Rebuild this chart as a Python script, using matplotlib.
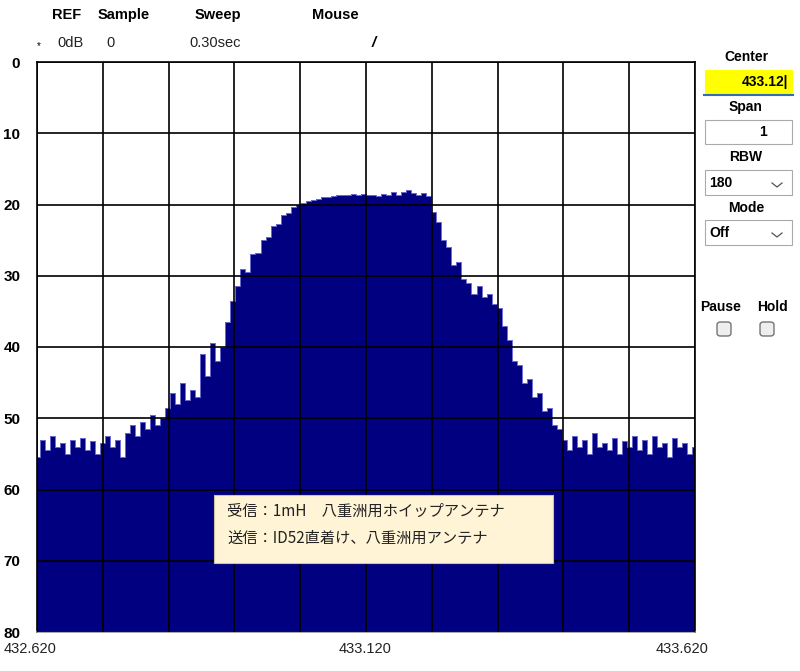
import matplotlib
matplotlib.use("Agg")
import matplotlib.pyplot as plt
from matplotlib.patches import Rectangle, FancyBboxPatch
from matplotlib.lines import Line2D
import matplotlib.transforms as mtransforms
import numpy as np

# spectrum level (dB below REF), one value per ~1/132 of the span
floor_left = [55.5, 53, 54.5, 52.5, 54, 53.5, 55, 53, 54, 52.8, 54.5, 53.2, 55, 53.5,
              52.5, 54, 53, 55.5, 52]
rise_1 = [51, 52.5, 50.5, 51.5, 49.5, 51, 50]
rise_2 = [48.5, 46.5, 48, 45, 47.5, 46, 47]
rise_3 = [41, 44, 39.5, 42, 40, 36.5]
slope_up = [33.5, 31.5, 29, 29.5, 27, 26.8, 25, 24.6, 23, 22.8, 21.5, 21.2, 20.3, 20.1]
top = [19.8, 19.5, 19.3, 19.2, 19.0, 18.9, 18.8, 18.7, 18.6, 18.7, 18.5, 18.6, 18.5,
       18.7, 18.6, 18.8, 18.5, 18.7, 18.3, 18.6, 18.2, 18.0, 18.4, 18.6, 18.4, 18.8]
slope_down = [21, 22.5, 25, 26, 28.5, 28, 30.5, 31, 32.5, 31.5, 33, 32.5, 34, 34.5,
              37, 39, 42, 42.5, 45, 44.5, 47, 46.5, 49, 48.5, 51, 51.5]
floor_right = [53, 54.5, 52.5, 54, 53, 55, 52, 54, 53.5, 54.5, 52.8, 55, 53.2, 54,
               52.5, 54.5, 53, 55, 52.5, 54, 53.5, 55.5, 52.8, 54, 53.5, 55, 54]
level = np.array(floor_left + rise_1 + rise_2 + rise_3 + slope_up + top
                 + slope_down + floor_right)

f_start, f_stop = 432.620, 433.620
freq = np.linspace(f_start, f_stop, len(level))
freq_ticks = [432.620, 433.120, 433.620]
freq_labels = ["432.620", "433.120", "433.620"]
db_ticks = [0, 10, 20, 30, 40, 50, 60, 70, 80]

W, H = 800, 671
fig = plt.figure(figsize=(W / 100, H / 100), dpi=100)


def fx(x):
    return x / W


def fy(y):
    return 1 - y / H


ax = fig.add_axes([fx(37), fy(632), (695 - 37) / W, (632 - 62) / H])
ax.fill_between(freq, level, 80, step="mid", color="#000080", lw=0, zorder=1)
ax.step(freq, level, where="mid", color="#6c6cd0", lw=0.7, zorder=1.2)
ax.set_xlim(f_start, f_stop)
ax.set_ylim(80, 0)
ax.set_xticks(np.linspace(f_start, f_stop, 11))
ax.set_yticks(db_ticks)
ax.set_xticklabels([])
ax.set_yticklabels([str(t) for t in db_ticks], fontsize=11, fontweight="bold",
                   family="Liberation Sans")
ax.tick_params(length=0, pad=12)
ax.grid(True, color="black", lw=1.2)
ax.set_axisbelow(False)
for s in ax.spines.values():
    s.set_color("black")
    s.set_linewidth(1.2)
ax.spines["bottom"].set_color("#999999")

# frequency labels under the grid
offsets = [-7, -1, -13]
for f, lab, dx in zip(freq_ticks, freq_labels, offsets):
    tr = mtransforms.offset_copy(ax.get_xaxis_transform(), fig=fig, x=dx, y=-10, units="dots")
    ax.text(f, 0, lab, transform=tr, ha="center", va="top", fontsize=10.5,
            family="Liberation Sans", color="#222222")

# header
hdr = dict(fontsize=10.5, fontweight="bold", family="Liberation Sans", va="center")
fig.text(fx(52), fy(15), "REF", **hdr)
fig.text(fx(98), fy(15), "Sample", **hdr)
fig.text(fx(195), fy(15), "Sweep", **hdr)
fig.text(fx(312), fy(15), "Mouse", **hdr)
val = dict(fontsize=10.5, family="Liberation Sans", va="center", color="#222222")
fig.text(fx(37), fy(46), "*", fontsize=7, family="Liberation Sans", va="center")
fig.text(fx(57), fy(43), "0dB", **val)
fig.text(fx(106), fy(43), "0", **val)
fig.text(fx(189), fy(43), "0.30sec", **val)
fig.text(fx(372), fy(43), "/", fontsize=11, fontweight="bold", style="italic",
         family="Liberation Sans", va="center")

# right control panel
lab = dict(fontsize=10, fontweight="bold", family="Liberation Sans", ha="center",
           va="center")
fig.text(fx(746), fy(57), "Center", **lab)
fig.text(fx(746), fy(107), "Span", **lab)
fig.text(fx(746), fy(157), "RBW", **lab)
fig.text(fx(746), fy(208), "Mode", **lab)
fig.text(fx(721), fy(307), "Pause", **lab)
fig.text(fx(773), fy(307), "Hold", **lab)


def box(x0, y0, x1, y1, fc="white", ec="#aaaaaa"):
    fig.patches.append(Rectangle((fx(x0), fy(y1)), fx(x1 - x0), (y1 - y0) / H,
                                 transform=fig.transFigure, fc=fc, ec=ec, lw=0.8))


box(705, 70, 792, 93, fc="#ffff00", ec="#ffff00")
fig.lines.append(Line2D([fx(704), fx(793)], [fy(95), fy(95)], color="#2f6fb5", lw=1.5,
                        transform=fig.transFigure))
fig.text(fx(788), fy(82), "433.12|", fontsize=10, fontweight="bold",
         family="Liberation Sans", ha="right", va="center")
box(705, 120, 792, 144)
fig.text(fx(763), fy(132), "1", fontsize=10, fontweight="bold",
         family="Liberation Sans", ha="center", va="center")
box(705, 170, 792, 195)
fig.text(fx(709), fy(183), "180", fontsize=10, fontweight="bold",
         family="Liberation Sans", va="center")
box(705, 220, 792, 245)
fig.text(fx(709), fy(233), "Off", fontsize=10, fontweight="bold",
         family="Liberation Sans", va="center")
for yc in (185, 235):
    fig.lines.append(Line2D([fx(772), fx(777), fx(782)], [fy(yc - 2), fy(yc + 2), fy(yc - 2)],
                            color="#555555", lw=0.9, transform=fig.transFigure))
for xc in (724, 767):
    fig.patches.append(FancyBboxPatch((fx(xc - 7), fy(336)), 14 / W, 14 / H,
                                      boxstyle="round,pad=0,rounding_size=0.004",
                                      transform=fig.transFigure, fc="#eeeeee",
                                      ec="#666666", lw=0.9))

# note box
box(214, 495, 553, 563, fc="#fff5d6", ec="#cfc3a0")
note = dict(fontsize=11, family=["Noto Sans CJK JP", "DejaVu Sans"], va="center",
            color="#222222")
fig.text(fx(227), fy(511), "受信：1mH　八重洲用ホイップアンテナ", **note)
fig.text(fx(227), fy(538), "送信：ID52直着け、八重洲用アンテナ", **note)

fig.savefig("out.png", dpi=100)
